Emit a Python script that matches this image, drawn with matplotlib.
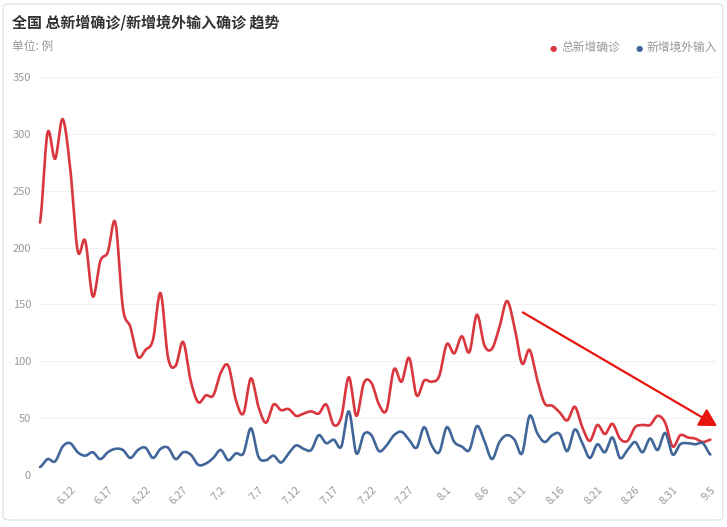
import numpy as np
import pandas as pd
import matplotlib
matplotlib.use("Agg")
import matplotlib.pyplot as plt
from matplotlib.patches import FancyBboxPatch

plt.rcParams['font.family'] = ['Noto Sans CJK SC', 'DejaVu Sans']

# daily data 6.8 - 9.5
dates = pd.date_range("2020-06-08", "2020-09-05")
date_labels = [f"{d.month}.{d.day}" for d in dates]

total_new = [
    222, 301, 278, 313, 270, 197, 206, 157, 188, 196, 222, 147, 130, 104, 110, 119,
    160, 103, 96, 117, 83, 64, 70,
    70, 90, 96, 66, 54, 85, 60, 46, 62, 57, 58, 52, 54, 56, 54, 62, 44, 51, 86, 52,
    81, 81, 62, 57, 93, 82, 103, 70, 83, 82, 87,
    115, 107, 122, 108, 141, 114, 111, 130, 153, 130, 98, 110, 84, 63, 61, 55, 48, 60,
    42, 30, 44, 36, 45, 32, 30, 42, 44, 44, 52, 46, 25,
    35, 33, 32, 29, 31,
]
imported_new = [
    7, 14, 12, 25, 28, 20, 17, 20, 14, 20, 23, 22, 15, 22, 24, 15, 23, 24, 14, 20,
    18, 9, 10,
    15, 22, 13, 19, 19, 41, 16, 13, 17, 11, 19, 26, 23, 22, 35, 28, 31, 25, 56, 19,
    36, 35, 21, 26, 35, 38, 31, 24, 42, 26, 20,
    42, 29, 25, 22, 43, 30, 14, 29, 35, 31, 19, 52, 37, 29, 35, 36, 21, 40, 28, 15,
    27, 20, 33, 15, 22, 29, 20, 32, 22, 37, 18,
    27, 28, 27, 28, 18,
]
tick_idx = list(range(4, len(date_labels), 5))
y_ticks = [0, 50, 100, 150, 200, 250, 300, 350]

RED = "#d9363e"
BLUE = "#41679a"
W, H = 727, 527


def smooth(y, n=14):
    # catmull-rom through every point, like the echarts smooth line
    y = np.asarray(y, dtype=float)
    p = np.concatenate([[y[0]], y, [y[-1]]])
    xs, ys = [], []
    t = np.linspace(0, 1, n, endpoint=False)
    for i in range(len(y) - 1):
        p0, p1, p2, p3 = p[i], p[i + 1], p[i + 2], p[i + 3]
        seg = 0.5 * ((2 * p1) + (-p0 + p2) * t + (2 * p0 - 5 * p1 + 4 * p2 - p3) * t ** 2
                     + (-p0 + 3 * p1 - 3 * p2 + p3) * t ** 3)
        xs.extend(i + t)
        ys.extend(seg)
    xs.append(len(y) - 1)
    ys.append(y[-1])
    return np.array(xs), np.array(ys)


def fx(px):
    return px / W


def fy(py):
    return 1 - py / H


fig = plt.figure(figsize=(W / 100, H / 100), dpi=100)
fig.patch.set_facecolor("white")

card = FancyBboxPatch((fx(3), fy(520)), fx(720), 516 / H,
                      boxstyle="round,pad=0,rounding_size=0.008",
                      transform=fig.transFigure, facecolor="none",
                      edgecolor="#e4e4e4", linewidth=1.0)
fig.add_artist(card)

ax = fig.add_axes([fx(38), fy(475), fx(716 - 38), (475 - 77) / H])
n = len(date_labels)
ax.set_xlim(-0.27, n - 1 + 0.75)
ax.set_ylim(0, 350)

xr, yr = smooth(total_new)
xb, yb = smooth(imported_new)
ax.plot(xr, yr, color=RED, lw=1.9, solid_capstyle="round", zorder=3)
ax.plot(xb, yb, color=BLUE, lw=1.9, solid_capstyle="round", zorder=3)

ax.set_yticks(y_ticks)
ax.set_yticklabels([str(v) for v in y_ticks], color="#999999", fontsize=8)
ax.set_xticks(tick_idx)
ax.set_xticklabels([date_labels[i] for i in tick_idx], rotation=45, ha="right",
                   rotation_mode="anchor", color="#999999", fontsize=7.8)
ax.tick_params(axis="both", length=0)
ax.tick_params(axis="y", pad=5)
ax.tick_params(axis="x", pad=7)
ax.grid(axis="y", color="#f1f1f1", lw=0.8)
ax.set_axisbelow(True)
for s in ax.spines.values():
    s.set_visible(False)

# trend arrow
ax.annotate("", xy=(89.9, 43), xytext=(64.1, 143), annotation_clip=False,
            arrowprops=dict(arrowstyle="-|>,head_length=0.48,head_width=0.27",
                            color="#e8140e", lw=1.6,
                            mutation_scale=22, shrinkA=0, shrinkB=0))

fig.text(fx(12), fy(22), "全国 总新增确诊/新增境外输入确诊 趋势", fontsize=10.8,
         fontweight="bold", color="#333333", va="center", ha="left")
fig.text(fx(12), fy(46), "单位: 例", fontsize=8.5, color="#999999",
         va="center", ha="left")

# legend
fig.text(fx(553), fy(48), "●", fontsize=6, color=RED, va="center", ha="center",
         family="DejaVu Sans")
fig.text(fx(561), fy(47), "总新增确诊", fontsize=8.5, color="#999999",
         va="center", ha="left")
fig.text(fx(639), fy(48), "●", fontsize=6, color=BLUE, va="center", ha="center",
         family="DejaVu Sans")
fig.text(fx(647), fy(47), "新增境外输入", fontsize=8.5, color="#999999",
         va="center", ha="left")

fig.savefig("out.png", dpi=100, facecolor="white")
